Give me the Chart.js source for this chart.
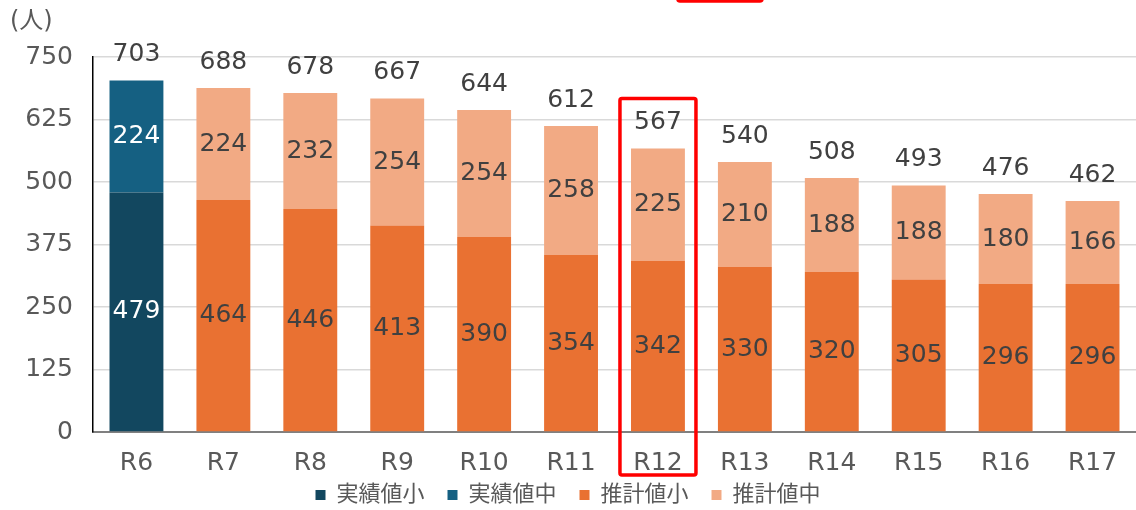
<!DOCTYPE html>
<html>
<head>
<meta charset="utf-8">
<script src="https://cdn.jsdelivr.net/npm/chart.js@4.4.1/dist/chart.umd.min.js"></script>
<style>
  html, body { margin: 0; padding: 0; background: #fff; }
  #wrap { width: 1136px; height: 510px; }
</style>
</head>
<body>
<div id="wrap"><canvas id="chart" width="1136" height="510"></canvas></div>
<script>
// ===== DATA =====
const categories = ['R6', 'R7', 'R8', 'R9', 'R10', 'R11', 'R12', 'R13', 'R14', 'R15', 'R16', 'R17'];
const actualSmall = [479, null, null, null, null, null, null, null, null, null, null, null];
const actualMid = [224, null, null, null, null, null, null, null, null, null, null, null];
const estSmall = [null, 464, 446, 413, 390, 354, 342, 330, 320, 305, 296, 296];
const estMid = [null, 224, 232, 254, 254, 258, 225, 210, 188, 188, 180, 166];
const totals = [703, 688, 678, 667, 644, 612, 567, 540, 508, 493, 476, 462];
const yTicks = [0, 125, 250, 375, 500, 625, 750];
const highlightIndex = 6; // R12

const FONT = '"DejaVu Sans", "Noto Sans CJK JP", sans-serif';

// labels inside segments, totals above bars, unit text, red boxes
const labelPlugin = {
    id: 'labelPlugin',
    afterDatasetsDraw(chart) {
        const ctx = chart.ctx;
        const y = chart.scales.y;
        const x = chart.scales.x;
        ctx.save();
        ctx.font = '25px ' + FONT;
        ctx.textAlign = 'center';
        ctx.textBaseline = 'middle';

        chart.data.datasets.forEach((ds, i) => {
            const meta = chart.getDatasetMeta(i);
            meta.data.forEach((bar, j) => {
                const v = ds.data[j];
                if (v == null) return;
                ctx.fillStyle = i < 2 ? '#ffffff' : '#404040';
                ctx.fillText(String(v), bar.x, (bar.y + bar.base) / 2);
            });
        });

        ctx.fillStyle = '#404040';
        totals.forEach((t, j) => {
            ctx.fillText(String(t), x.getPixelForValue(j), y.getPixelForValue(t) - 26);
        });

        // unit
        ctx.fillStyle = '#595959';
        ctx.font = '24px ' + FONT;
        ctx.textAlign = 'left';
        ctx.fillText('(人)', 10, 22);

        // red highlight box around R12
        const cx = x.getPixelForValue(highlightIndex);
        const top = y.getPixelForValue(totals[highlightIndex]) - 50;
        const bottom = chart.chartArea.bottom + 43;
        ctx.strokeStyle = '#ff0000';
        ctx.lineWidth = 3.5;
        ctx.beginPath();
        ctx.roundRect(cx - 38, top, 76, bottom - top, 2);
        ctx.stroke();

        // partial box cut off at the top edge
        ctx.beginPath();
        ctx.roundRect(cx + 20, -30, 84, 31, 2);
        ctx.stroke();
        ctx.restore();
    }
};

const ctx = document.getElementById('chart').getContext('2d');
new Chart(ctx, {
    type: 'bar',
    data: {
        labels: categories,
        datasets: [
            { label: '実績値小', data: actualSmall, backgroundColor: '#12475f' },
            { label: '実績値中', data: actualMid, backgroundColor: '#156082' },
            { label: '推計値小', data: estSmall, backgroundColor: '#e97132' },
            { label: '推計値中', data: estMid, backgroundColor: '#f2aa84' }
        ]
    },
    options: {
        responsive: false,
        animation: false,
        devicePixelRatio: 1,
        layout: { padding: { top: 57, left: 0, right: 0, bottom: -6 } },
        datasets: {
            bar: { categoryPercentage: 1, barPercentage: 0.62, borderWidth: 0 }
        },
        plugins: {
            legend: {
                position: 'bottom',
                labels: {
                    boxWidth: 10,
                    boxHeight: 10,
                    padding: 23,
                    color: '#595959',
                    font: { family: FONT, size: 22 }
                }
            },
            tooltip: { enabled: false }
        },
        scales: {
            x: {
                stacked: true,
                grid: { display: false },
                border: { color: '#808080', width: 2 },
                ticks: { color: '#595959', font: { family: FONT, size: 25 }, padding: 8 },
                afterFit(scale) {
                    scale.height = 29;
                    // let the labels run past the short axis box
                    scale._computeLabelArea = () => null;
                }
            },
            y: {
                stacked: true,
                min: 0,
                max: 750,
                afterBuildTicks(scale) { scale.ticks = yTicks.map(v => ({ value: v })); },
                grid: { color: '#d9d9d9', lineWidth: 1.5, drawTicks: false },
                border: { color: '#000000', width: 1.5 },
                ticks: { color: '#595959', font: { family: FONT, size: 25 }, padding: 20 },
                afterFit(scale) { scale.width = 93; }
            }
        }
    },
    plugins: [labelPlugin]
});
</script>
</body>
</html>
